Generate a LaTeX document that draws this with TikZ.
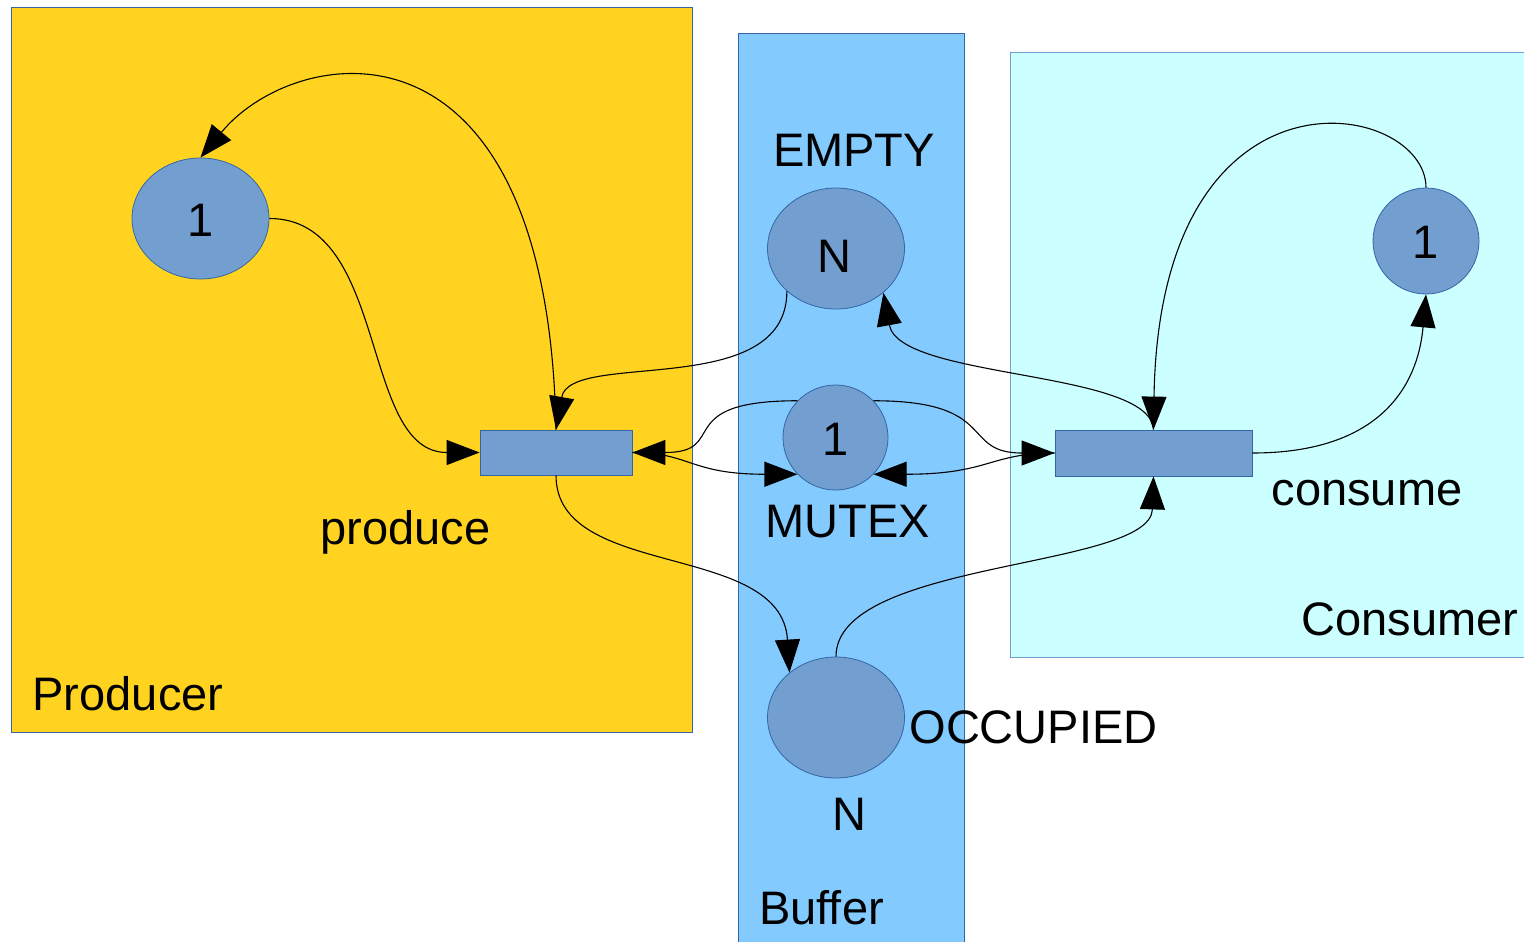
\documentclass[tikz,border=0pt]{standalone}
\usepackage{fontspec}
\setmainfont{Liberation Sans}
\usetikzlibrary{arrows.meta,shapes.geometric}
\definecolor{prodbg}{HTML}{FFD320}
\definecolor{bufbg}{HTML}{83CAFF}
\definecolor{consbg}{HTML}{CCFFFF}
\definecolor{placefill}{HTML}{729FCF}
\definecolor{placeedge}{HTML}{3465A4}
\definecolor{consedge}{HTML}{729FCF}
\begin{document}
\begin{tikzpicture}[x=1pt,y=-1pt,
  placeov/.style={ellipse,draw=placeedge,fill=placefill,line width=0.8pt,inner sep=0pt,minimum width=137pt,minimum height=121pt},
  placecirc/.style={circle,draw=placeedge,fill=placefill,line width=0.8pt,inner sep=0pt},
  transbox/.style={rectangle,draw=placeedge,fill=placefill,line width=0.8pt,inner sep=0pt},
  lbl/.style={anchor=base,inner sep=0pt,font=\fontsize{47}{56}\selectfont},
  arc/.style={line width=1.1pt,-{Triangle[length=33pt,width=25pt]}}
]
\useasboundingbox (0,0) rectangle (1524,942);
\clip (0,0) rectangle (1524,942);
% regions
\fill[white] (0,0) rectangle (1524,942);
\draw[placeedge,fill=prodbg,line width=0.8pt] (11,7) rectangle (692,732);
\draw[placeedge,fill=bufbg,line width=0.8pt] (738,33) rectangle (964,960);
\draw[consedge,fill=consbg,line width=0.8pt] (1010,52) rectangle (1540,657);
% places and transitions
\node[placeov] (p1) at (200.5,218.5) {};
\node[placeov] (empty) at (836,248.5) {};
\node[placecirc,minimum size=105pt] (mutex) at (835.5,437.5) {};
\node[placeov] (occ) at (836,717.5) {};
\node[placecirc,minimum size=106pt] (pc) at (1426,241) {};
\node[transbox,minimum width=152pt,minimum height=45pt] (produce) at (556,452.5) {};
\node[transbox,minimum width=197pt,minimum height=46pt] (consume) at (1153.5,453) {};
% labels
\node[lbl] (t1) at (201,236) {1};
\node[lbl] (tn) at (834,272) {N};
\node[lbl] (tempty) at (854,166) {EMPTY};
\node[lbl] (tm1) at (836,455) {1};
\node[lbl] (tmutex) at (848,537) {MUTEX};
\node[lbl] (tproduce) at (405.5,544) {produce};
\node[lbl] (tconsume) at (1367,505) {consume};
\node[lbl] (tconsumer) at (1410,635) {Consumer};
\node[lbl] (tproducer) at (128,710) {Producer};
\node[lbl] (tc1) at (1426,258) {1};
\node[lbl] (tocc) at (1033.5,743) {OCCUPIED};
\node[lbl] (tn2) at (849,830) {N};
\node[lbl] (tbuffer) at (821.5,924) {Buffer};
% arcs
\draw[arc] (p1.east) .. controls +(120,0) and +(-120,0) .. (produce.west);
\draw[arc] (produce.north) .. controls +(-8,-430) and +(95,-115) .. (p1.north);
\draw[arc] (empty.221) .. controls +(0,110) and +(14,-80) .. (produce.north);
\draw[arc] (consume.north) .. controls +(-3,-60) and +(16,87) .. (empty.-43);
\draw[arc] (pc.north) .. controls +(0,-88) and +(6,-380) .. (consume.north);
\draw[arc] (consume.east) .. controls +(150,0) and +(-6,66) .. (pc.south);
\draw[arc] (produce.south) .. controls +(0,105) and +(-8,-132) .. (occ.136.5);
\draw[arc] (occ.north) .. controls +(0,-97) and +(-3,93) .. (consume.south);
\draw[arc] (mutex.136) .. controls +(-128,0) and +(98,0) .. (produce.east);
\draw[arc] (produce.east) .. controls +(58,0) and +(-108,0) .. (mutex.224);
\draw[arc] (mutex.44) .. controls +(126,0) and +(-95,0) .. (consume.west);
\draw[arc] (consume.west) .. controls +(-65,0) and +(116,0) .. (mutex.-44);
\end{tikzpicture}
\end{document}
